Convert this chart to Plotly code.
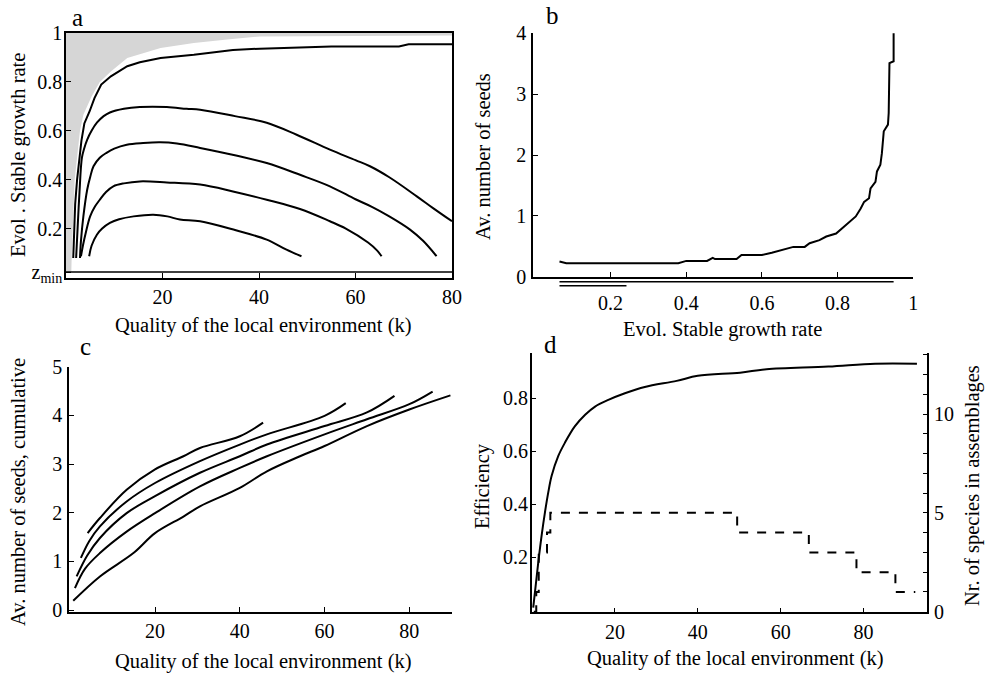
import plotly.graph_objects as go

W, H = 986, 674
FONT = "Liberation Serif"

# ---------------- Panel a data ----------------
zmin = 0.022
gray_k = [0, 1.1, 1.2, 1.4, 1.8, 2.9, 3.6, 5.3, 7.0, 9.3, 12.7, 19.6, 26.5, 33.4, 40.2, 80, 80, 0]
gray_z = [zmin, zmin, 0.1, 0.2, 0.4, 0.6, 0.666, 0.74, 0.8, 0.843, 0.898, 0.939, 0.959, 0.973, 0.986, 0.99, 1.0, 1.0]

a1_k = [1.5, 1.7, 1.9, 2.3, 2.7, 3.2, 3.8, 4.9, 5.9, 7.3, 9.3, 12.7, 15.3, 19.6, 26.5, 34.6, 40.2, 45, 50, 55, 69, 71, 80]
a1_z = [0.08, 0.2, 0.3, 0.4, 0.48, 0.56, 0.63, 0.68, 0.734, 0.789, 0.823, 0.864, 0.88, 0.898, 0.911, 0.93, 0.936, 0.938, 0.942, 0.945, 0.945, 0.954, 0.954]

a2_k = [2.1, 2.4, 2.8, 3.3, 3.8, 4.4, 5.3, 6.4, 7.8, 9.1, 12, 15.3, 20.9, 25, 27.8, 35, 41.6, 47.8, 54.7, 60, 63, 67, 72.7, 76, 80]
a2_z = [0.08, 0.2, 0.35, 0.49, 0.53, 0.564, 0.60, 0.633, 0.66, 0.675, 0.69, 0.697, 0.697, 0.69, 0.686, 0.66, 0.633, 0.584, 0.523, 0.48, 0.455, 0.41, 0.332, 0.285, 0.23]

a3_k = [2.9, 3.1, 3.6, 4.4, 5.0, 5.7, 7.0, 8.4, 10, 12.6, 16, 19.5, 23, 27.8, 35, 41.6, 48.5, 54.7, 60, 63.3, 67, 71.3, 74, 76.8]
a3_z = [0.08, 0.15, 0.25, 0.36, 0.41, 0.455, 0.49, 0.51, 0.527, 0.543, 0.55, 0.553, 0.548, 0.53, 0.50, 0.468, 0.42, 0.373, 0.32, 0.29, 0.25, 0.196, 0.15, 0.087]

a4_k = [3.1, 3.5, 4.1, 5.0, 6.0, 7.0, 8.3, 9.8, 12, 15.3, 20.9, 27.8, 34.6, 41.6, 48.5, 54.7, 58, 62.6, 64.5, 65.4]
a4_z = [0.087, 0.13, 0.183, 0.25, 0.29, 0.318, 0.35, 0.373, 0.385, 0.393, 0.389, 0.38, 0.352, 0.318, 0.28, 0.23, 0.2, 0.143, 0.11, 0.087]

a5_k = [4.8, 5.3, 6.4, 7.5, 9.1, 11, 14, 18.1, 21, 23.6, 27.8, 34.7, 41.6, 45.7, 48.8]
a5_z = [0.087, 0.13, 0.175, 0.20, 0.223, 0.238, 0.25, 0.257, 0.25, 0.237, 0.23, 0.196, 0.155, 0.114, 0.087]

# ---------------- Panel b data ----------------
b_rate = [0.065, 0.083, 0.379, 0.40, 0.455, 0.47, 0.476, 0.533, 0.546, 0.60, 0.626, 0.652, 0.683, 0.713, 0.726,
          0.752, 0.770, 0.796, 0.813, 0.830, 0.848, 0.861, 0.870, 0.883, 0.887, 0.900, 0.904, 0.913, 0.917,
          0.922, 0.933, 0.935, 0.937, 0.948, 0.948]
b_seeds = [0.25, 0.22, 0.22, 0.26, 0.26, 0.31, 0.29, 0.29, 0.357, 0.357, 0.395, 0.44, 0.49, 0.49, 0.55,
           0.60, 0.66, 0.71, 0.80, 0.88, 0.99, 1.12, 1.23, 1.29, 1.45, 1.56, 1.73, 1.84, 2.03,
           2.39, 2.50, 2.69, 3.51, 3.54, 4.03]
b_range_full = [0.065, 0.948]
b_range_low = [0.065, 0.242]

# ---------------- Panel c data ----------------
c1_k = [0.7, 7.0, 14.9, 20, 26.7, 30.6, 40, 46.4, 54.2, 60, 70, 80, 89.7]
c1_s = [0.19, 0.69, 1.17, 1.58, 1.92, 2.13, 2.51, 2.85, 3.16, 3.37, 3.78, 4.12, 4.41]
c2_k = [1.1, 3.5, 7, 13.3, 20, 30.6, 40, 46.4, 60, 70, 80, 85.5]
c2_s = [0.45, 0.85, 1.17, 1.61, 1.99, 2.54, 2.92, 3.16, 3.61, 3.92, 4.23, 4.49]
c3_k = [1.5, 4.0, 7, 13.3, 20, 30.6, 40, 46.4, 60, 70, 76.5]
c3_s = [0.69, 1.12, 1.48, 1.99, 2.34, 2.82, 3.16, 3.40, 3.78, 4.06, 4.40]
c4_k = [2.5, 4.5, 7, 13.3, 20, 30.6, 40, 46.4, 60, 65]
c4_s = [1.07, 1.42, 1.72, 2.23, 2.61, 3.06, 3.40, 3.61, 3.99, 4.25]
c5_k = [4.1, 7, 13.3, 20, 26.7, 30.6, 40, 45.5]
c5_s = [1.58, 1.89, 2.47, 2.89, 3.16, 3.33, 3.57, 3.85]

# ---------------- Panel d data ----------------
d_k = [0.27, 1.5, 2.3, 3.1, 3.9, 4.7, 6.3, 7.9, 10.3, 12.8, 15.2, 18.4, 22.4, 27.2, 34.9, 40, 50.2, 56.6,
       71.5, 82.8, 92.9]
d_eff = [0.01, 0.183, 0.283, 0.37, 0.445, 0.507, 0.582, 0.632, 0.694, 0.738, 0.769, 0.794, 0.819, 0.843,
         0.866, 0.885, 0.897, 0.91, 0.92, 0.931, 0.931]
sp_k = [0.4, 1.0, 1.6, 3.6, 4.4, 49.5, 66.8, 78.3, 87.7, 92.5]
sp_n = [0, 1, 3, 4, 5, 4, 3, 2, 1, 1]


def px(x):
    return x / W


def py(y):
    return 1 - y / H


fig = go.Figure()
line = dict(color="black", width=2)

# Panel a
fig.add_trace(go.Scatter(x=gray_k, y=gray_z, fill="toself", fillcolor="#d6d6d6", line=dict(width=0),
                         mode="lines", xaxis="x", yaxis="y", hoverinfo="skip"))
for i, (kk, zz) in enumerate([(a1_k, a1_z), (a2_k, a2_z), (a3_k, a3_z), (a4_k, a4_z), (a5_k, a5_z)]):
    fig.add_trace(go.Scatter(x=kk, y=zz, mode="lines", line=line,
                             line_shape="linear" if i == 0 else "spline", xaxis="x", yaxis="y"))

# Panel b
fig.add_trace(go.Scatter(x=b_rate, y=b_seeds, mode="lines", line=line, xaxis="x2", yaxis="y2"))

# Panel c
for kk, ss in [(c1_k, c1_s), (c2_k, c2_s), (c3_k, c3_s), (c4_k, c4_s), (c5_k, c5_s)]:
    fig.add_trace(go.Scatter(x=kk, y=ss, mode="lines", line=line, line_shape="spline", xaxis="x3", yaxis="y3"))

# Panel d
fig.add_trace(go.Scatter(x=d_k, y=d_eff, mode="lines", line=line, line_shape="spline", xaxis="x4", yaxis="y4"))
fig.add_trace(go.Scatter(x=sp_k, y=sp_n, mode="lines", line=dict(color="black", width=2, dash="dash"),
                         line_shape="hv", xaxis="x4", yaxis="y5"))

tickfont = dict(family=FONT, size=20, color="black")
common = dict(showline=True, linecolor="black", linewidth=1.5, ticks="inside", ticklen=5, tickcolor="black",
              showgrid=False, zeroline=False, tickfont=tickfont, automargin=False)
xc = dict(common, ticklabelstandoff=1)
yc = dict(common, ticklabelstandoff=-2)

fig.update_layout(
    width=W, height=H, margin=dict(l=0, r=0, t=0, b=0),
    paper_bgcolor="white", plot_bgcolor="white", showlegend=False,
    font=dict(family=FONT, color="black"),
    xaxis=dict(domain=[px(66), px(452)], range=[0, 80], tickvals=[20, 40, 60, 80], mirror=True, anchor="y", **xc),
    yaxis=dict(domain=[py(277.5), py(33)], range=[0, 1], tickvals=[zmin, 0.2, 0.4, 0.6, 0.8, 1],
               ticktext=["z<sub>min</sub>", "0.2", "0.4", "0.6", "0.8", "1"], mirror=True, anchor="x", **yc),
    xaxis2=dict(domain=[px(533), px(913.3)], range=[-0.005, 1], tickvals=[0.2, 0.4, 0.6, 0.8, 1], anchor="y2",
                **dict(xc, ticklabelstandoff=8)),
    yaxis2=dict(domain=[py(276.7), py(33.3)], range=[0, 4], tickvals=[0, 1, 2, 3, 4], anchor="x2",
                **dict(yc, ticklabelstandoff=1)),
    xaxis3=dict(domain=[px(69), px(451.7)], range=[-0.3, 90], tickvals=[20, 40, 60, 80], anchor="y3", **xc),
    yaxis3=dict(domain=[py(611.7), py(366.7)], range=[-0.035, 5], tickvals=[0, 1, 2, 3, 4, 5], anchor="x3",
                **dict(yc, ticklabelstandoff=1)),
    xaxis4=dict(domain=[px(531.7), px(927.3)], range=[-0.1, 95.4], tickvals=[20, 40, 60, 80], anchor="y4", **xc),
    yaxis4=dict(domain=[py(612.3), py(353.3)], range=[-0.0075, 0.97], tickvals=[0.2, 0.4, 0.6, 0.8], anchor="x4", **yc),
    yaxis5=dict(range=[-0.03, 13.07], tickvals=[0, 5, 10], overlaying="y4", side="right", anchor="x4",
                minor=dict(dtick=1, ticks="inside", ticklen=5, tickcolor="black"), **dict(yc, ticklabelstandoff=1)),
)

# z_min line and range markers under panel b
fig.add_shape(type="line", xref="x domain", x0=0, x1=1, yref="y", y0=zmin, y1=zmin, line=dict(color="black", width=1.5))
fig.add_shape(type="line", xref="x2", x0=b_range_full[0], x1=b_range_full[1], yref="paper", y0=py(281.7), y1=py(281.7),
              line=dict(color="black", width=1.5))
fig.add_shape(type="line", xref="x2", x0=b_range_low[0], x1=b_range_low[1], yref="paper", y0=py(285.7), y1=py(285.7),
              line=dict(color="black", width=1.5))

tf = dict(family=FONT, size=20.5, color="black")
lf = dict(family=FONT, size=25, color="black")
ann = [
    ("a", 77, 17, 0, lf), ("b", 552, 15, 0, lf), ("c", 85, 346, 0, lf), ("d", 550, 344, 0, lf),
    ("Quality of the local environment (k)", 263, 326, 0, tf),
    ("Evol . Stable growth rate", 18, 155, -90, tf),
    ("Av. number of seeds", 483, 157, -90, tf),
    ("Evol. Stable growth rate", 722, 329, 0, tf),
    ("Av. number of seeds, cumulative", 18, 492, -90, tf),
    ("Quality of the local environment (k)", 263, 661, 0, tf),
    ("Efficiency", 482, 486, -90, tf),
    ("Nr. of species in assemblages", 972, 486, -90, tf),
    ("Quality of the local environment (k)", 735, 658, 0, tf),
]
for text, x, y, ang, f in ann:
    fig.add_annotation(text=text, x=px(x), y=py(y), xref="paper", yref="paper", showarrow=False,
                       textangle=ang, font=f, xanchor="center", yanchor="middle")

fig.write_html("out.html", config={"displayModeBar": False},
               post_script="document.body.style.margin='0px';")
